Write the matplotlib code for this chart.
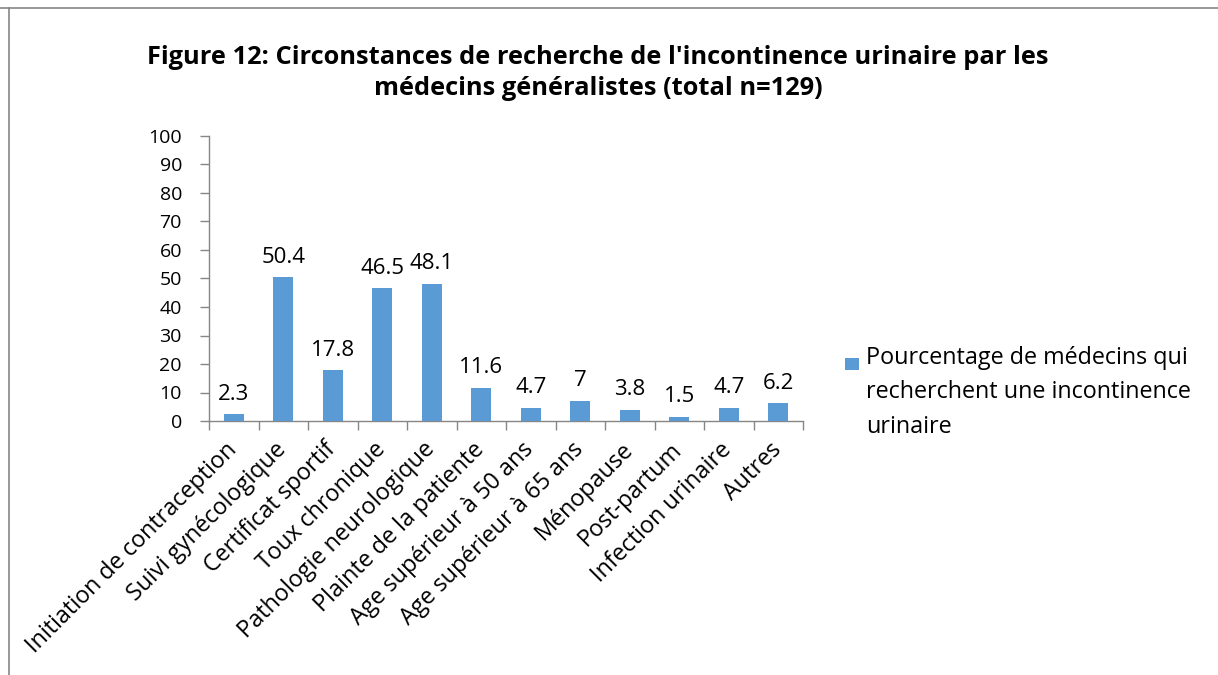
import matplotlib
matplotlib.use("Agg")
import matplotlib.pyplot as plt
from matplotlib.lines import Line2D
from matplotlib.patches import Rectangle
import matplotlib.transforms as mtransforms
import numpy as np

plt.rcParams['font.family'] = ['Open Sans', 'DejaVu Sans']

categories = ["Initiation de contraception", "Suivi gynécologique", "Certificat sportif",
              "Toux chronique", "Pathologie neurologique", "Plainte de la patiente",
              "Age supérieur à 50 ans", "Age supérieur à 65 ans", "Ménopause",
              "Post-partum", "Infection urinaire", "Autres"]
values = [2.3, 50.4, 17.8, 46.5, 48.1, 11.6, 4.7, 7, 3.8, 1.5, 4.7, 6.2]
value_labels = ["2.3", "50.4", "17.8", "46.5", "48.1", "11.6", "4.7", "7", "3.8", "1.5", "4.7", "6.2"]
series_name = "Pourcentage de médecins qui\nrecherchent une incontinence\nurinaire"
title = "Figure 12: Circonstances de recherche de l'incontinence urinaire par les\nmédecins généralistes (total n=129)"
yticks = [0, 10, 20, 30, 40, 50, 60, 70, 80, 90, 100]

W, H = 1218, 675
fig = plt.figure(figsize=(W / 100, H / 100), dpi=100)
ax = fig.add_axes([209 / W, 1 - 421 / H, (803 - 209) / W, (421 - 136) / H])

bar_color = '#5B9BD5'
grey = '#868686'
x = np.arange(len(categories))
bars = ax.bar(x, values, width=0.41, color=bar_color, label=series_name, zorder=3)
ax.bar_label(bars, labels=value_labels, padding=7, fontsize=16, color='black')

ax.set_xlim(-0.5, len(categories) - 0.5)
ax.set_ylim(0, 100)
ax.set_yticks(yticks)
ax.set_yticklabels([str(t) for t in yticks])
ax.set_xticks(x)
ax.set_xticklabels(categories, rotation=45, ha='right', va='top', fontsize=16.8)
ax.set_xticks(np.arange(-0.5, len(categories) + 0.5, 1), minor=True)
ax.tick_params(axis='x', which='major', length=0, pad=12)
ax.tick_params(axis='x', which='minor', length=6.5, color=grey, width=1)
ax.tick_params(axis='y', length=6.5, color=grey, width=1, pad=13, labelsize=14)

offset = mtransforms.ScaledTranslation(8 / 100, 0, fig.dpi_scale_trans)
for lab in ax.get_xticklabels():
    lab.set_transform(lab.get_transform() + offset)

for s in ['top', 'right']:
    ax.spines[s].set_visible(False)
for s in ['left', 'bottom']:
    ax.spines[s].set_color(grey)
    ax.spines[s].set_linewidth(1)

fig.text(598 / W, 1 - 73 / H, title, ha='center', va='center', fontsize=18.3,
         fontweight='bold', linespacing=1.3)

# legend (single series)
fig.add_artist(Rectangle((845 / W, 1 - 370 / H), 14 / W, 12 / H,
                         transform=fig.transFigure, facecolor=bar_color, edgecolor='none'))
fig.text(866 / W, 1 - 346 / H, series_name, ha='left', va='top', fontsize=16.8,
         linespacing=1.57)

fig.add_artist(Line2D([0, 1], [1 - 8 / H, 1 - 8 / H], transform=fig.transFigure,
                      color=grey, linewidth=1.2))
fig.add_artist(Line2D([9 / W, 9 / W], [0, 1 - 8 / H], transform=fig.transFigure,
                      color=grey, linewidth=1.2))

fig.savefig('out.png', dpi=100)
